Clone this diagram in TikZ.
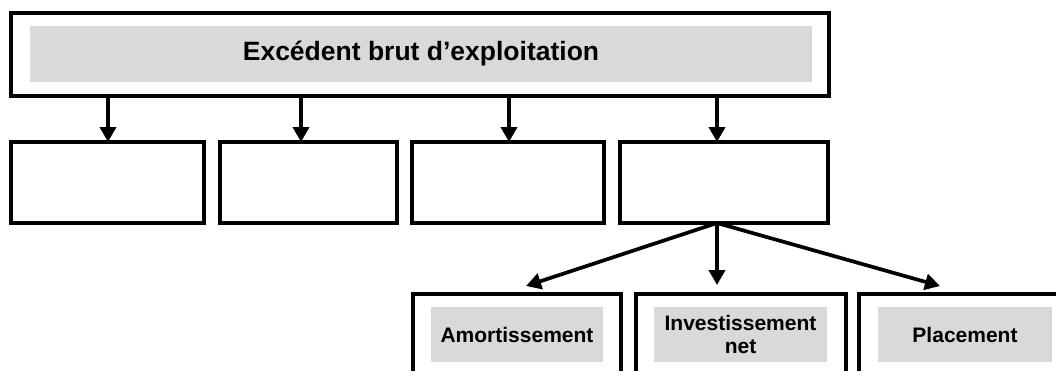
\documentclass[tikz,border=0pt]{standalone}
\usepackage{fontspec}
\setmainfont{Liberation Sans}
\usetikzlibrary{arrows.meta}
\definecolor{boxgray}{HTML}{D9D9D9}
\tikzset{
  box/.style={draw, line width=3.7pt, fill=white, inner sep=0pt, outer sep=0pt},
  graylabel/.style={fill=boxgray, inner sep=0pt, outer sep=0pt, align=center,
    font=\bfseries\fontsize{21}{23}\selectfont},
  titlelabel/.style={graylabel, font=\bfseries\fontsize{26.5}{30}\selectfont},
  arr/.style={line width=3.7pt, -{Triangle[width=16pt,length=15pt]}},
}
\begin{document}
\begin{tikzpicture}[x=1pt,y=-1pt]
\useasboundingbox (0,0) rectangle (1056,370);
\clip (0,0) rectangle (1056,370);
% top box
\node[box, minimum width=818pt, minimum height=83pt] (top) at (420,54.5) {};
\node[titlelabel, minimum width=782pt, minimum height=56pt] (title) at (421,54) {Excédent brut d’exploitation};
% second row
\node[box, minimum width=193pt, minimum height=81pt] (b1) at (107.5,182.5) {};
\node[box, minimum width=177pt, minimum height=81pt] (b2) at (308.5,182.5) {};
\node[box, minimum width=192pt, minimum height=81pt] (b3) at (508,182.5) {};
\node[box, minimum width=208pt, minimum height=81pt] (b4) at (724,182.5) {};
% bottom row
\node[box, minimum width=208pt, minimum height=81pt] (c1) at (517,334.5) {};
\node[box, minimum width=210pt, minimum height=81pt] (c2) at (741,334.5) {};
\node[box, minimum width=211pt, minimum height=81pt] (c3) at (964.5,334.5) {};
\node[graylabel, minimum width=172pt, minimum height=55pt] (g1) at (517,334.5) {Amortissement};
\node[graylabel, minimum width=173pt, minimum height=55pt] (g2) at (740.5,334.5) {Investissement\\net};
\node[graylabel, minimum width=174pt, minimum height=55pt] (g3) at (965,334.5) {Placement};
% connectors
\coordinate (a1) at ([xshift=0.5pt]b1.north);
\coordinate (a2) at ([xshift=-7.5pt]b2.north);
\coordinate (a3) at ([xshift=1pt]b3.north);
\coordinate (a4) at ([xshift=-7pt]b4.north);
\draw[arr] (top.south -| a1) -- (a1);
\draw[arr] (top.south -| a2) -- (a2);
\draw[arr] (top.south -| a3) -- (a3);
\draw[arr] (top.south -| a4) -- (a4);
\coordinate (o) at ([xshift=-7pt]b4.south);
\draw[arr] (o) -- ([shift={(9pt,8pt)}]c1.north);
\draw[arr] (o) -- ([shift={(-24pt,9pt)}]c2.north);
\draw[arr] (o) -- ([shift={(-24.5pt,8pt)}]c3.north);
\end{tikzpicture}
\end{document}
